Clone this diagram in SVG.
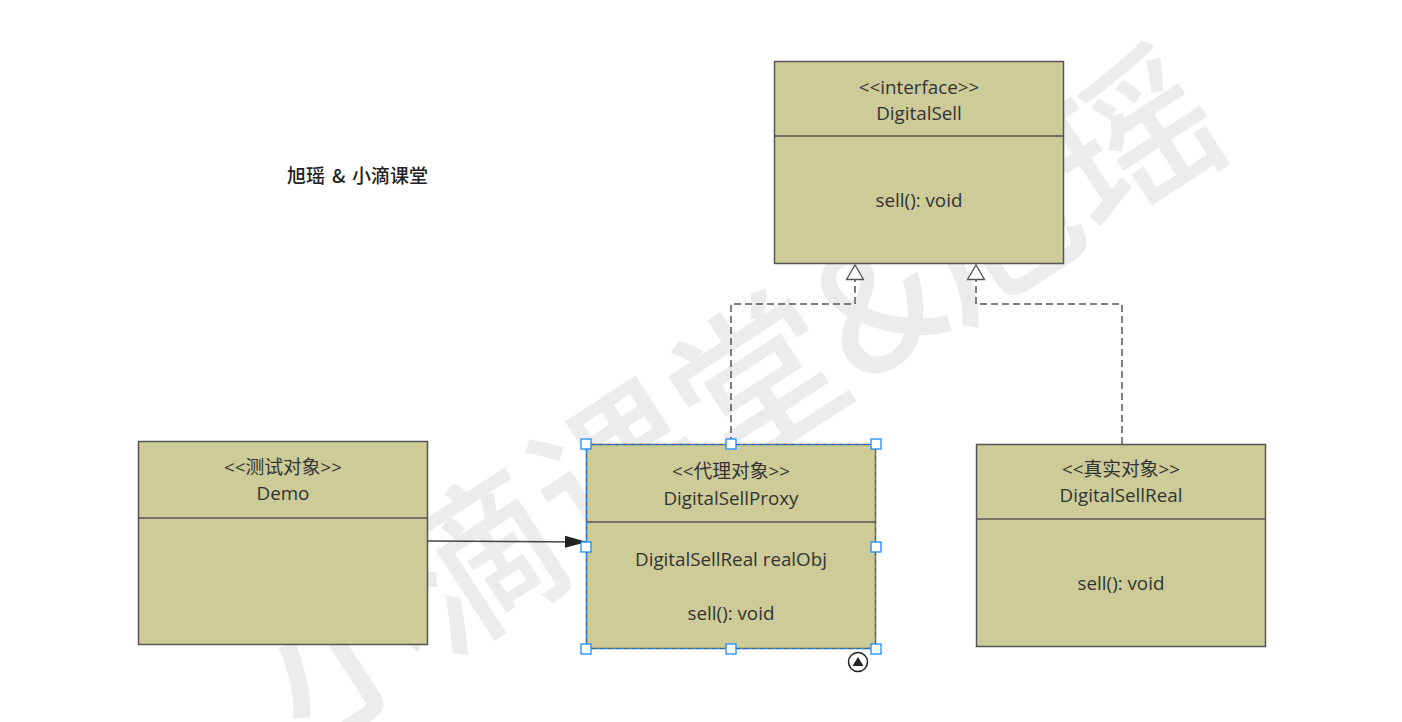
<svg xmlns="http://www.w3.org/2000/svg" width="1402" height="722" viewBox="0 0 1402 722">
<defs>
<style>
.box{fill:#cdcb98;stroke:#555;stroke-width:1.5}
.div{stroke:#555;stroke-width:1.5}
.t{font-family:"Open Sans","Noto Sans CJK SC",sans-serif;font-size:18.8px;fill:#333;text-anchor:middle}
.dash{fill:none;stroke:#555;stroke-width:1.5;stroke-dasharray:7 4}
.handle{fill:#fff;stroke:#1a8cff;stroke-width:1.3}
.wm{font-family:"Noto Sans CJK SC",sans-serif;font-size:165px;font-weight:500;fill:#000;fill-opacity:0.075;text-anchor:middle}
.ttl{font-family:"Noto Sans CJK SC",sans-serif;font-size:19px;font-weight:500;fill:#222}
</style>
<marker id="hollow" viewBox="0 0 17 20" refX="16" refY="10" markerWidth="17" markerHeight="20" markerUnits="userSpaceOnUse" orient="auto">
<path d="M1.5,1.5 L16,10 L1.5,18.5 Z" fill="#fff" stroke="#555" stroke-width="1.3"/>
</marker>
<marker id="filled" viewBox="0 0 22 14" refX="21" refY="7" markerWidth="22" markerHeight="14" markerUnits="userSpaceOnUse" orient="auto">
<path d="M0,1 L22,7 L0,13 Z" fill="#222"/>
</marker>
</defs>
<rect width="1402" height="722" fill="#fff"/>
<text class="wm" x="740" y="455" transform="rotate(-33 740 400)">小滴课堂&amp;旭瑶</text>

<g id="title">
<text class="ttl" y="183"><tspan x="287">旭瑶</tspan><tspan x="332">&amp;</tspan><tspan x="352">小滴课堂</tspan></text>
</g>

<g id="connectors">
<path class="dash" d="M731,444 V304 H855 V265" marker-end="url(#hollow)"/>
<path class="dash" d="M1122,444 V304 H976 V265" marker-end="url(#hollow)"/>
<line x1="428" y1="541" x2="586" y2="542" stroke="#444" stroke-width="1.5" marker-end="url(#filled)"/>
</g>

<g id="DigitalSell">
<rect class="box" x="774.5" y="61.5" width="289" height="202"/>
<line class="div" x1="774.5" y1="136" x2="1063.5" y2="136"/>
<text class="t" x="919" y="94">&lt;&lt;interface&gt;&gt;</text>
<text class="t" x="919" y="120">DigitalSell</text>
<text class="t" x="919" y="207">sell(): void</text>
</g>

<g id="Demo">
<rect class="box" x="138.5" y="441.5" width="289" height="203"/>
<line class="div" x1="138.5" y1="518" x2="427.5" y2="518"/>
<text class="t" x="283" y="474">&lt;&lt;测试对象&gt;&gt;</text>
<text class="t" x="283" y="500">Demo</text>
</g>

<g id="DigitalSellProxy">
<rect class="box" x="586.5" y="444.5" width="289" height="204"/>
<line class="div" x1="586.5" y1="522" x2="875.5" y2="522"/>
<rect x="586.5" y="444.5" width="289" height="204" fill="none" stroke="#1a8cff" stroke-width="1" stroke-dasharray="5 3"/>
<text class="t" x="731" y="478">&lt;&lt;代理对象&gt;&gt;</text>
<text class="t" x="731" y="505">DigitalSellProxy</text>
<text class="t" x="731" y="566">DigitalSellReal realObj</text>
<text class="t" x="731" y="620">sell(): void</text>
<rect class="handle" x="581" y="439" width="10" height="10"/>
<rect class="handle" x="726" y="439" width="10" height="10"/>
<rect class="handle" x="871" y="439" width="10" height="10"/>
<rect class="handle" x="581" y="542" width="10" height="10"/>
<rect class="handle" x="871" y="542" width="10" height="10"/>
<rect class="handle" x="581" y="644" width="10" height="10"/>
<rect class="handle" x="726" y="644" width="10" height="10"/>
<rect class="handle" x="871" y="644" width="10" height="10"/>
<circle cx="858" cy="662" r="9.5" fill="#fff" stroke="#222" stroke-width="1.5"/>
<path d="M852.5,666 L858,657 L863.5,666 Z" fill="#222"/>
</g>

<g id="DigitalSellReal">
<rect class="box" x="976.5" y="444.5" width="289" height="202"/>
<line class="div" x1="976.5" y1="519" x2="1265.5" y2="519"/>
<text class="t" x="1121" y="476">&lt;&lt;真实对象&gt;&gt;</text>
<text class="t" x="1121" y="502">DigitalSellReal</text>
<text class="t" x="1121" y="590">sell(): void</text>
</g>
</svg>
